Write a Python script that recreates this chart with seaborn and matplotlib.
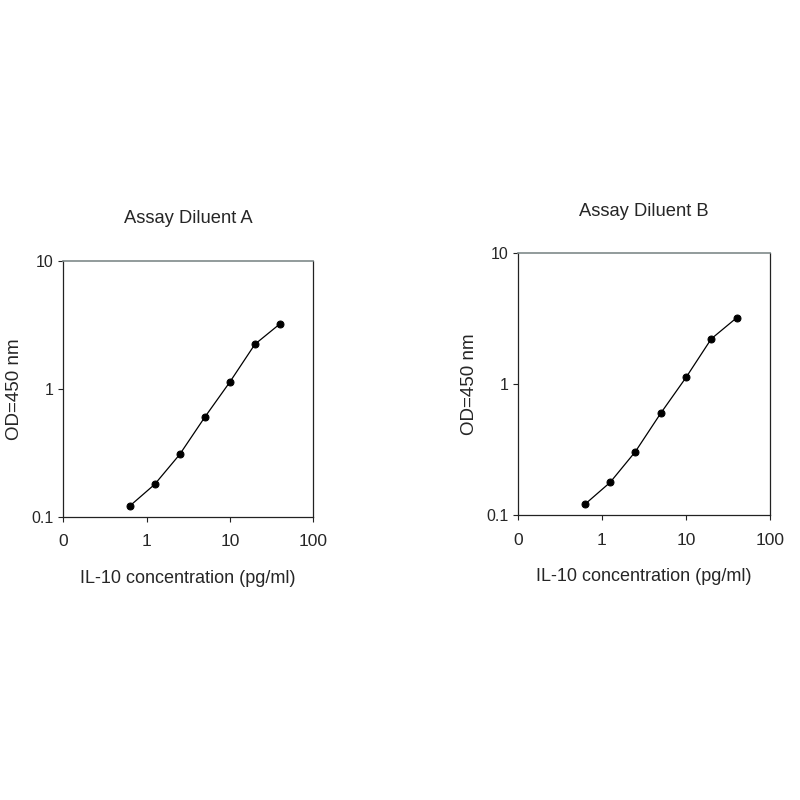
import numpy as np
import pandas as pd
import seaborn as sns
import matplotlib.pyplot as plt
from matplotlib.ticker import FixedLocator, FixedFormatter, NullLocator

# standard curve, IL-10 ELISA
conc = [0.625, 1.25, 2.5, 5, 10, 20, 40]
od_a = [0.121, 0.179, 0.307, 0.60, 1.13, 2.23, 3.22]
od_b = [0.121, 0.178, 0.306, 0.60, 1.125, 2.22, 3.21]
titles = ["Assay Diluent A", "Assay Diluent B"]
x_ticks = [0.1, 1, 10, 100]
x_labels = ["0", "1", "10", "100"]
y_ticks = [0.1, 1, 10]
y_labels = ["0.1", "1", "10"]

sns.set_style("ticks")
plt.rcParams['font.family'] = ['Liberation Sans', 'DejaVu Sans']

fig = plt.figure(figsize=(8, 8), dpi=100)
boxes = [[0.079, 0.354, 0.3125, 0.32], [0.6475, 0.356, 0.315, 0.3275]]

for od, title, box in zip([od_a, od_b], titles, boxes):
    ax = fig.add_axes(box)
    df = pd.DataFrame({"conc": conc, "od": od})
    sns.lineplot(data=df, x="conc", y="od", ax=ax, color="black", linewidth=0.9,
                 marker="o", markersize=5, markeredgecolor="black")
    ax.set_xscale("log")
    ax.set_yscale("log")
    ax.set_xlim(0.1, 100)
    ax.set_ylim(0.1, 10)
    ax.xaxis.set_major_locator(FixedLocator(x_ticks))
    ax.xaxis.set_major_formatter(FixedFormatter(x_labels))
    ax.xaxis.set_minor_locator(NullLocator())
    ax.yaxis.set_major_locator(FixedLocator(y_ticks))
    ax.yaxis.set_major_formatter(FixedFormatter(y_labels))
    ax.yaxis.set_minor_locator(NullLocator())
    ax.tick_params(axis="x", labelsize=12.5, length=3.5, width=0.8, pad=9, color="#222222")
    ax.tick_params(axis="y", labelsize=11.5, length=3.5, width=0.8, pad=3.5, color="#222222")
    for side in ["left", "bottom", "right"]:
        ax.spines[side].set_color("#222222")
        ax.spines[side].set_linewidth(0.9)
    ax.spines["top"].set_color("#7f8a8a")
    ax.spines["top"].set_linewidth(1.2)
    ax.set_title(title, fontsize=13.2, pad=27)
    ax.set_xlabel("IL-10 concentration (pg/ml)", fontsize=13, labelpad=15)
    ax.set_ylabel("OD=450 nm", fontsize=13.5, labelpad=6)

plt.savefig("out.png", dpi=100, facecolor="white")
